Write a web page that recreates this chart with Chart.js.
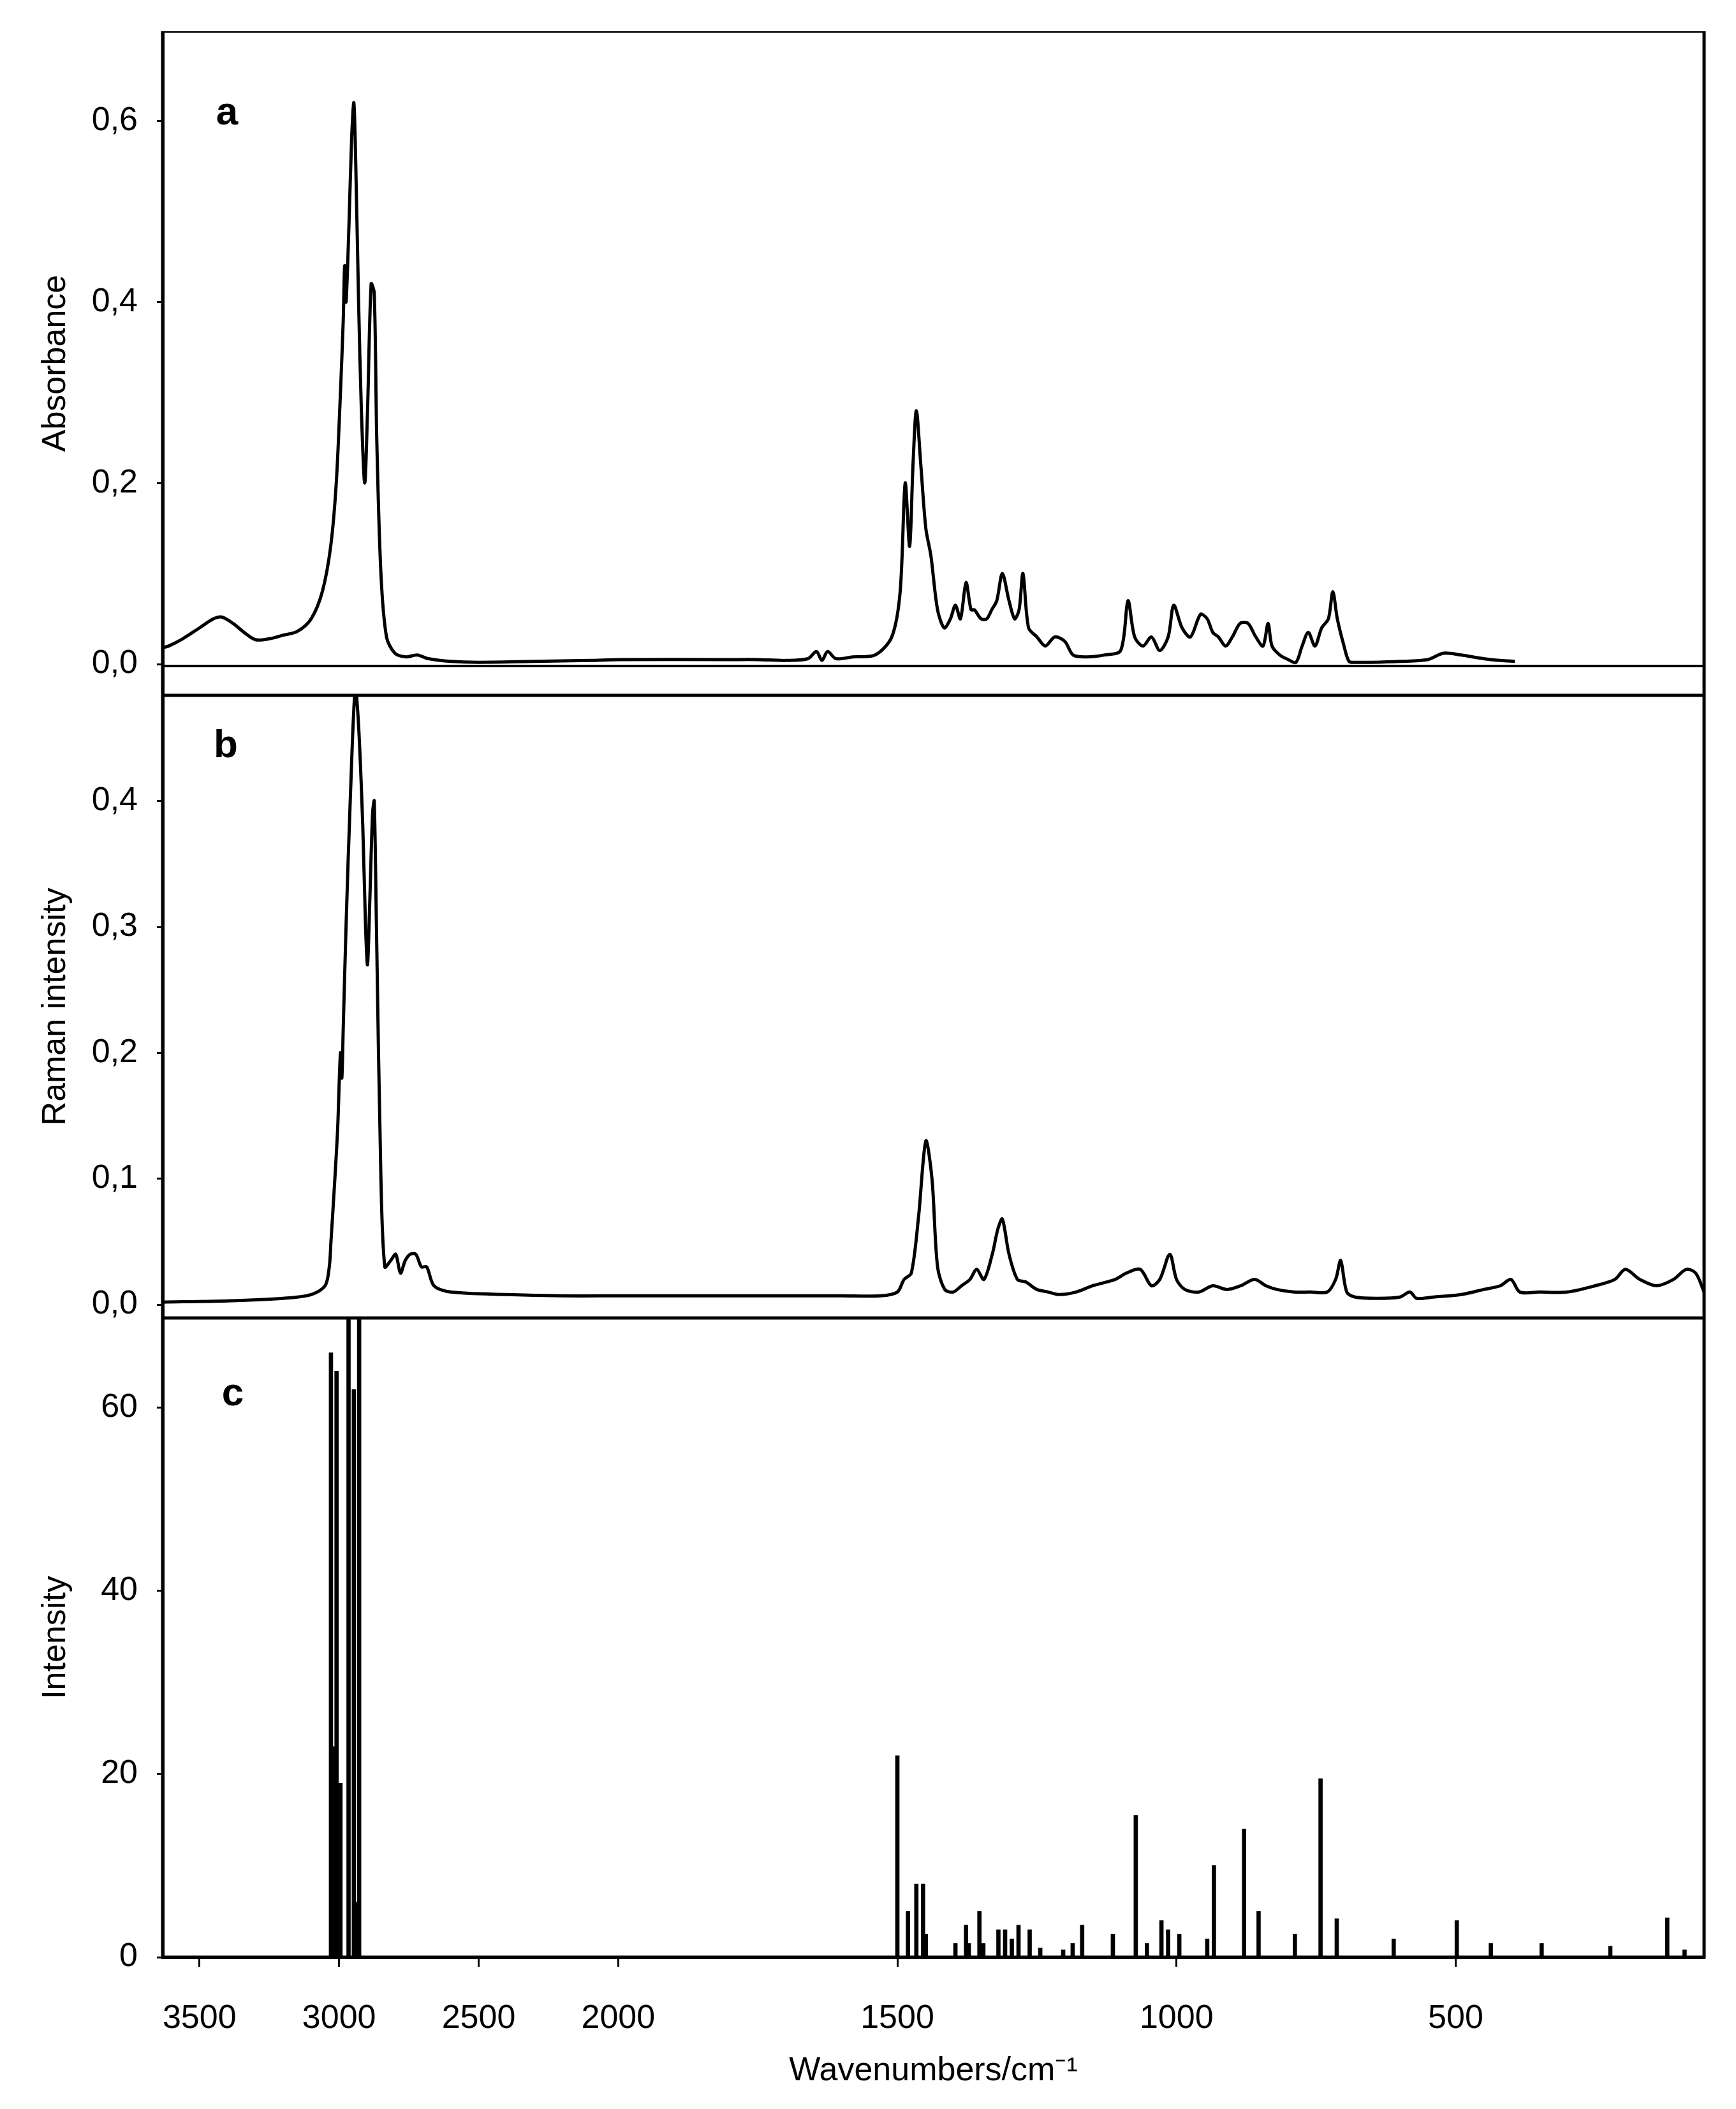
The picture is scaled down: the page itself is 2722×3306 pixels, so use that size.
<!DOCTYPE html>
<html><head><meta charset="utf-8">
<script src="https://cdn.jsdelivr.net/npm/chart.js@4/dist/chart.umd.min.js"></script>
<style>body{margin:0;background:#fff;width:2722px;height:3306px;position:relative;overflow:hidden}canvas{position:absolute;left:0}</style>
</head><body>
<canvas id="ca" width="2722" height="1041" style="top:49px"></canvas>
<canvas id="cb" width="2722" height="976" style="top:1090px"></canvas>
<canvas id="cc" width="2722" height="1240" style="top:2066px"></canvas>
<script>
const xTicks=[3500,3000,2500,2000,1500,1000,500];
const irWn=[3632,3610,3560,3500,3450,3420,3380,3340,3300,3250,3200,3150,3100,3060,3030,3010,2995,2985,2980,2975,2965,2955,2947,2940,2930,2920,2908,2898,2885,2874,2865,2850,2830,2800,2760,2720,2680,2600,2500,2300,2100,2000,1800,1750,1700,1660,1645,1635,1625,1610,1580,1540,1510,1495,1486,1478,1472,1466,1458,1449,1440,1428,1416,1405,1396,1387,1377,1368,1362,1350,1340,1331,1322,1312,1300,1290,1282,1275,1265,1250,1235,1218,1200,1185,1160,1130,1100,1087,1075,1060,1045,1030,1015,1005,990,975,957,945,935,925,912,900,886,872,858,845,836,829,815,800,786,775,764,752,740,728,720,712,700,691,680,650,600,550,522,490,450,420,394];
const irAbs=[0.018,0.02,0.028,0.04,0.05,0.052,0.045,0.035,0.027,0.028,0.032,0.036,0.05,0.08,0.13,0.2,0.3,0.38,0.44,0.40,0.48,0.58,0.62,0.55,0.4,0.28,0.2,0.28,0.42,0.41,0.25,0.1,0.03,0.012,0.008,0.01,0.006,0.003,0.002,0.003,0.004,0.005,0.005,0.005,0.004,0.006,0.014,0.004,0.014,0.006,0.008,0.01,0.03,0.08,0.2,0.13,0.22,0.28,0.22,0.15,0.12,0.06,0.04,0.05,0.065,0.05,0.09,0.06,0.06,0.05,0.05,0.06,0.07,0.1,0.07,0.05,0.06,0.1,0.04,0.03,0.02,0.03,0.025,0.01,0.008,0.01,0.015,0.07,0.03,0.02,0.03,0.015,0.03,0.065,0.04,0.03,0.055,0.05,0.035,0.03,0.02,0.03,0.045,0.045,0.03,0.02,0.045,0.02,0.01,0.005,0.002,0.02,0.035,0.02,0.04,0.05,0.08,0.05,0.02,0.003,0.002,0.002,0.003,0.005,0.012,0.01,0.006,0.004,0.003];
const raWn=[3632,3400,3200,3100,3050,3035,3029,3015,3005,2995,2990,2985,2975,2960,2942,2930,2915,2905,2898,2890,2880,2874,2866,2850,2836,2815,2797,2780,2763,2745,2725,2705,2686,2660,2600,2400,2200,2000,1800,1600,1530,1500,1488,1475,1462,1449,1438,1428,1415,1400,1385,1370,1358,1345,1330,1320,1312,1300,1285,1270,1250,1230,1210,1180,1150,1110,1090,1065,1045,1030,1012,1000,985,960,935,910,885,860,840,820,790,760,730,715,706,695,680,640,600,582,570,540,490,450,420,401,385,350,300,250,215,196,170,140,110,87,70,55];
const raInt=[0.002,0.003,0.005,0.008,0.015,0.03,0.05,0.1,0.14,0.2,0.18,0.22,0.3,0.4,0.49,0.46,0.38,0.3,0.27,0.32,0.39,0.40,0.3,0.1,0.03,0.035,0.04,0.025,0.035,0.04,0.04,0.03,0.03,0.015,0.01,0.008,0.007,0.007,0.007,0.007,0.007,0.01,0.02,0.025,0.07,0.13,0.1,0.03,0.012,0.01,0.015,0.02,0.028,0.02,0.04,0.06,0.068,0.04,0.02,0.018,0.012,0.01,0.008,0.01,0.015,0.02,0.025,0.028,0.015,0.02,0.04,0.02,0.012,0.01,0.015,0.012,0.015,0.02,0.015,0.012,0.01,0.01,0.01,0.02,0.035,0.01,0.006,0.005,0.006,0.01,0.005,0.006,0.008,0.012,0.015,0.02,0.01,0.01,0.01,0.015,0.02,0.028,0.02,0.015,0.02,0.028,0.025,0.01,0.0];
const stWn=[3029,3019,3009,2995,2966,2947,2937,2928,1500,1481,1466,1454,1449,1396,1377,1372,1353,1346,1319,1307,1295,1283,1263,1244,1203,1186,1169,1114,1073,1053,1027,1015,995,945,933,879,853,788,742,713,611,498,437,346,223,121,90];
const stInt=[66,23,64,19,75,62,6,75,22,5,8,8,2.5,1.5,3.5,1.5,5,1.5,3,3,2,3.5,3,1,0.8,1.5,3.5,2.5,15.5,1.5,4,3,2.5,2,10,14,5,2.5,19.5,4.2,2,4,1.5,1.5,1.2,4.3,0.8];

const u=w=>w<=2000?w:2000+(w-2000)/2;
const inv=v=>v<=2000?v:2000+(v-2000)*2;
const XMIN=u(55),XMAX=u(3632);
const FONT='"Liberation Sans", Arial, sans-serif';
const FS=52;
const pts=(a,b)=>a.map((w,i)=>({x:u(w),y:b[i]}));

function frame(label,lx,ly,zeroLine){return{id:'frame',afterDraw(c){const g=c.ctx,a=c.chartArea;g.save();g.strokeStyle='#000';g.lineWidth=5;g.strokeRect(a.left,a.top,a.right-a.left,a.bottom-a.top);
 if(zeroLine!==undefined){const y=c.scales.y.getPixelForValue(zeroLine);g.lineWidth=4;g.beginPath();g.moveTo(a.left,y);g.lineTo(a.right,y);g.stroke();}
 g.fillStyle='#000';g.font='bold 62px '+FONT;g.textAlign='center';g.textBaseline='middle';g.fillText(label,lx,ly);g.restore();}};}

function yAxis(min,max,step,title,dec){return{min,max,bounds:'data',grid:{display:true,drawOnChartArea:false,drawTicks:true,tickLength:9,tickWidth:3,tickColor:'#000'},border:{display:true,color:'#000',width:5},
 afterBuildTicks(s){const t=[];for(let v=0;v<=max+1e-9;v+=step)t.push({value:+v.toFixed(6)});s.ticks=t;s.min=min;s.max=max;},
 ticks:{color:'#000',font:{size:FS,family:FONT},padding:30,callback:v=>dec?v.toFixed(1).replace('.',','):String(Math.round(v))},
 title:{display:true,text:title,color:'#000',font:{size:FS,family:FONT},padding:{bottom:0}},
 afterFit(s){s.width=203;s.paddingTop=0;s.paddingBottom=0;}};}

function xAxis(show){return{type:'linear',reverse:true,min:XMIN,max:XMAX,bounds:'data',offset:false,display:show,grid:{display:true,offset:false,drawOnChartArea:false,drawTicks:true,tickLength:15,tickWidth:3,tickColor:'#000'},border:{display:true,color:'#000',width:5},
 afterBuildTicks(s){s.ticks=xTicks.map(w=>({value:u(w)}));s.min=XMIN;s.max=XMAX;},
 ticks:{color:'#000',font:{size:FS,family:FONT},padding:50,maxRotation:0,autoSkip:false,callback:v=>String(Math.round(inv(v)))},
 title:{display:true,text:'Wavenumbers/cm⁻¹',color:'#000',font:{size:FS,family:FONT},padding:{top:2,bottom:28}},
 afterFit(s){if(show)s.height=238;s.paddingLeft=0;s.paddingRight=0;}};}

const common={responsive:false,devicePixelRatio:1,animation:false,layout:{padding:{right:50,top:0,bottom:0,left:52}},plugins:{legend:{display:false},tooltip:{enabled:false}}};
const lineDs=(d)=>({data:d,borderColor:'#000',borderWidth:5,pointRadius:0,tension:0.3,fill:false,clip:false});

new Chart(document.getElementById('ca'),{type:'line',data:{datasets:[lineDs(pts(irWn,irAbs))]},
 options:{...common,scales:{x:xAxis(false),y:yAxis(-0.0345,0.699,0.2,'Absorbance',true)}},plugins:[frame('a',356,129,-0.002)]});
new Chart(document.getElementById('cb'),{type:'line',data:{datasets:[lineDs(pts(raWn,raInt))]},
 options:{...common,scales:{x:xAxis(false),y:yAxis(-0.0106,0.484,0.1,'Raman intensity',true)}},plugins:[frame('b',354,80)]});
new Chart(document.getElementById('cc'),{type:'bar',data:{datasets:[{data:pts(stWn,stInt),backgroundColor:'#000',barThickness:6}]},
 options:{...common,scales:{x:xAxis(true),y:yAxis(0,69.8,20,'Intensity',false)}},plugins:[frame('c',365,120)]});
</script></body></html>
